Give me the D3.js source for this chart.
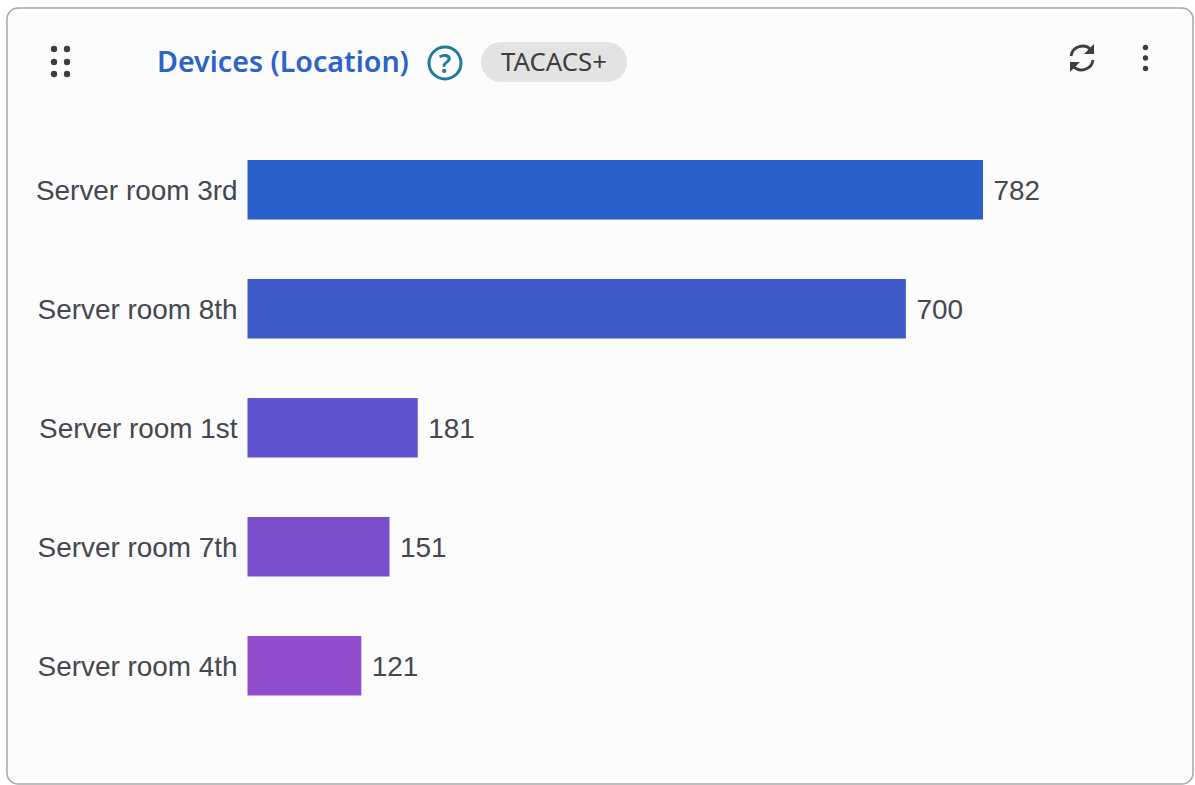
<!DOCTYPE html>
<meta charset="utf-8">
<style>
html, body {
  margin: 0;
  background-color: #fff;
  overflow: hidden;
}
svg {
  display: block;
}
.card {
  fill: #fcfcfc;
  stroke: #a8a8a8;
  stroke-width: 1.5px;
}
.title {
  font-family: 'Noto Sans', sans-serif;
  font-weight: 600;
  font-size: 28.6px;
  fill: #2c62c9;
}
.chip-text {
  font-family: 'Noto Sans', sans-serif;
  font-size: 25.8px;
  fill: #3d3d3d;
}
.axis text, .value {
  font-family: 'Liberation Sans', sans-serif;
  font-size: 27.9px;
  fill: #43474e;
}
.axis path, .axis line {
  display: none;
}
</style>
<svg width="1195" height="785"></svg>
<script src="https://d3js.org/d3.v7.min.js"></script>
<script>
var categories = ["Server room 3rd", "Server room 8th", "Server room 1st", "Server room 7th", "Server room 4th"];
var values = [782, 700, 181, 151, 121];
var barColors = ["#285fc8", "#3f5ac9", "#5f52cd", "#7a4fcb", "#914dcd"];

var svg = d3.select("svg");
var margin = {top: 130.25, left: 247.5};

var x = d3.scaleLinear().domain([0, 782]).range([0, 735.5]);
var y = d3.scaleBand().domain(categories).range([0, 595]).paddingInner(0.5).paddingOuter(0.25);
var color = d3.scaleOrdinal().domain(categories).range(barColors);

// card
svg.append("rect")
    .attr("class", "card")
    .attr("x", 7).attr("y", 8)
    .attr("width", 1186).attr("height", 776)
    .attr("rx", 11);

// drag handle
var dotsX = [54, 67];
var dotsY = [49, 62, 74];
dotsY.forEach(function(cy) {
  dotsX.forEach(function(cx) {
    svg.append("circle").attr("cx", cx).attr("cy", cy).attr("r", 3.2).attr("fill", "#3a3f45");
  });
});

// header
svg.append("text").attr("class", "title").attr("x", 157).attr("y", 72).text("Devices (Location)");

var help = svg.append("g").attr("transform", "translate(445,63)");
help.append("circle").attr("r", 16).attr("fill", "none").attr("stroke", "#1d7c9c").attr("stroke-width", 3);
help.append("text")
    .attr("text-anchor", "middle").attr("y", 10)
    .style("font-family", "'Noto Sans', sans-serif").style("font-size", "27px").style("font-weight", 600)
    .attr("fill", "#1d7c9c")
    .text("?");

svg.append("rect").attr("x", 481).attr("y", 42).attr("width", 146).attr("height", 40).attr("rx", 20).attr("fill", "#e3e3e3");
svg.append("text").attr("class", "chip-text").attr("x", 554).attr("y", 71).attr("text-anchor", "middle").text("TACACS+");

// refresh icon
var refresh = svg.append("g")
    .attr("transform", "translate(1082,58)")
    .attr("fill", "none").attr("stroke", "#3a3f45").attr("stroke-width", 2.8);
refresh.append("path").attr("d", "M-11,-2 A11.5,11.5 0 0 1 9,-8");
refresh.append("path").attr("d", "M11,2 A11.5,11.5 0 0 1 -9,8");
refresh.append("path").attr("d", "M12,-14 L12,-4 L2,-4 Z").attr("fill", "#3a3f45").attr("stroke", "none");
refresh.append("path").attr("d", "M-12,14 L-12,4 L-2,4 Z").attr("fill", "#3a3f45").attr("stroke", "none");

// more menu
[47.5, 58, 68.5].forEach(function(cy) {
  svg.append("circle").attr("cx", 1145.5).attr("cy", cy).attr("r", 2.7).attr("fill", "#3a3f45");
});

// chart
var g = svg.append("g").attr("transform", "translate(" + margin.left + "," + margin.top + ")");

g.append("g")
    .attr("class", "axis")
    .call(d3.axisLeft(y).tickSize(0).tickPadding(10))
  .selectAll("text")
    .attr("dy", "0.36em");

var rows = categories.map(function(c, i) { return {category: c, value: values[i]}; });

g.selectAll(".bar")
    .data(rows)
  .enter().append("rect")
    .attr("class", "bar")
    .attr("x", 0)
    .attr("y", function(d) { return y(d.category); })
    .attr("height", y.bandwidth())
    .attr("width", function(d) { return x(d.value); })
    .attr("fill", function(d) { return color(d.category); });

g.selectAll(".value")
    .data(rows)
  .enter().append("text")
    .attr("class", "value")
    .attr("x", function(d) { return x(d.value) + 10.5; })
    .attr("y", function(d) { return y(d.category) + y.bandwidth() / 2; })
    .attr("dy", "0.36em")
    .text(function(d) { return d.value; });
</script>
